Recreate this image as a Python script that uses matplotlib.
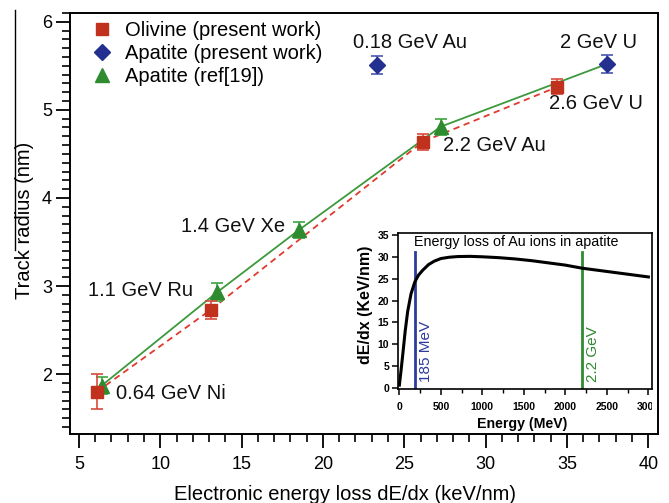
import matplotlib
matplotlib.use("Agg")
import matplotlib.pyplot as plt
from matplotlib.ticker import MultipleLocator
from matplotlib.lines import Line2D
from matplotlib.transforms import Bbox, TransformedBbox
import numpy as np

plt.rcParams['font.family'] = ['Liberation Sans', 'DejaVu Sans']

# ---- data ----
olivine_x = [6.1, 13.1, 26.15, 34.4]
olivine_y = [1.80, 2.73, 4.64, 5.26]
olivine_err = [0.20, 0.10, 0.09, 0.085]

apatite_x = [23.35, 37.45]
apatite_y = [5.51, 5.52]
apatite_err = [0.10, 0.10]

ref_x = [6.4, 13.5, 18.55, 27.25]
ref_y = [1.87, 2.93, 3.64, 4.81]
ref_err = [0.10, 0.10, 0.09, 0.09]

series_labels = ["Olivine (present work)", "Apatite (present work)", "Apatite (ref[19])"]

ion_labels = ["0.64 GeV Ni", "1.1 GeV Ru", "1.4 GeV Xe", "2.2 GeV Au",
              "2.6 GeV U", "0.18 GeV Au", "2 GeV U"]
ion_label_x = [7.3, 12.0, 17.7, 27.4, 33.9, 21.85, 34.55]
ion_label_y = [1.78, 2.95, 3.68, 4.59, 5.07, 5.77, 5.77]
ion_label_ha = ["left", "right", "right", "left", "left", "left", "left"]

energy_mev = [0, 20, 40, 70, 100, 140, 185, 230, 280, 350, 420, 500, 600,
              700, 850, 1000, 1200, 1400, 1600, 1800, 2000, 2200, 2400,
              2600, 2800, 3000]
dedx_inset = [0.7, 4.0, 7.5, 13.0, 17.5, 21.5, 24.2, 25.8, 26.9, 28.2, 29.0,
              29.6, 29.9, 30.05, 30.1, 30.0, 29.8, 29.5, 29.1, 28.6, 28.1,
              27.4, 26.9, 26.4, 25.9, 25.4]
marker_energies = [185, 2200]
marker_labels = ["185 MeV", "2.2 GeV"]

red = "#c0321e"
red_line = "#e03a2e"
blue = "#23308f"
green = "#2e8b30"
green_line = "#3c9a3c"

FS = 14.5

fig = plt.figure(figsize=(6.69, 5.03), dpi=100)
ax = fig.add_axes([70/669, 1-434/503, 588/669, 421/503])

# fit lines
ax.plot(olivine_x, olivine_y, color=red_line, lw=1.3, ls=(0, (3.5, 2.5)), zorder=2)
green_fit_x = list(ref_x) + [apatite_x[1]]
green_fit_y = list(ref_y) + [apatite_y[1]]
ax.plot(green_fit_x, green_fit_y, color=green_line, lw=1.3, zorder=2)

ax.errorbar(olivine_x, olivine_y, yerr=olivine_err, fmt='s', color=red,
            ecolor="#d84a3c", ms=9, capsize=4, elinewidth=1.2, capthick=1.2,
            zorder=4)
ax.errorbar(apatite_x, apatite_y, yerr=apatite_err, fmt='D', color=blue,
            ecolor="#4a55b0", ms=8.5, capsize=4, elinewidth=1.2, capthick=1.2,
            zorder=4)
ax.errorbar(ref_x, ref_y, yerr=ref_err, fmt='^', color=green,
            ecolor="#3fa33f", ms=10, capsize=4, elinewidth=1.2, capthick=1.2,
            zorder=3)

for t, x, y, ha in zip(ion_labels, ion_label_x, ion_label_y, ion_label_ha):
    ax.text(x, y, t, ha=ha, va='center', fontsize=FS, color='#111111')

ax.set_xlim(4.45, 40.6)
ax.set_ylim(1.32, 6.1)
ax.xaxis.set_major_locator(MultipleLocator(5))
ax.xaxis.set_minor_locator(MultipleLocator(1))
ax.yaxis.set_major_locator(MultipleLocator(1))
ax.yaxis.set_minor_locator(MultipleLocator(0.1))
ax.tick_params(which='major', direction='out', length=10, width=1.3, labelsize=13)
ax.tick_params(which='minor', direction='out', length=5.5, width=1.2)
ax.tick_params(axis='x', which='major', pad=6)
ax.tick_params(axis='y', which='major', pad=3)
for s in ax.spines.values():
    s.set_linewidth(1.4)

ax.set_xlabel("Electronic energy loss dE/dx (keV/nm)", fontsize=FS)
ax.xaxis.set_label_coords(0.4685, -0.121)
ax.xaxis.label.set_va('top')
ax.set_ylabel("Track radius (nm)", fontsize=FS)
ax.yaxis.set_label_coords(-0.061, 0.508)

handles = [
    Line2D([], [], ls='none', marker='s', ms=9, color=red),
    Line2D([], [], ls='none', marker='D', ms=8.5, color=blue),
    Line2D([], [], ls='none', marker='^', ms=10, color=green),
]
leg = ax.legend(handles, series_labels, loc='upper left',
                bbox_to_anchor=(0.037, (434-21)/421), frameon=False,
                fontsize=FS, handlelength=1.0, handletextpad=0.65,
                labelspacing=0.21, borderaxespad=0.0, borderpad=0.0)

# ---- inset ----
ins = fig.add_axes([397.7/669, 1-389.3/503, 254/669, 156.6/503])
ins.plot(energy_mev, dedx_inset, color='black', lw=2.2, zorder=3)
ins.plot([marker_energies[0]] * 2, [0, 31.2], color="#2b3c9c", lw=2)
ins.plot([marker_energies[1]] * 2, [0, 31.2], color="#2e8b30", lw=2)
ins.text(326, 8.4, marker_labels[0], rotation=90, ha='center', va='center',
         fontsize=11, color="#2b3c9c")
ins.text(2335, 7.8, marker_labels[1], rotation=90, ha='center', va='center',
         fontsize=11, color="#2e8b30")
ins.text(180, 33.4, "Energy loss of Au ions in apatite", ha='left', va='center',
         fontsize=10.3)
ins.set_xlim(-20, 3040)
ins.set_ylim(-0.25, 35.5)
ins.xaxis.set_major_locator(MultipleLocator(500))
ins.xaxis.set_minor_locator(MultipleLocator(250))
ins.yaxis.set_major_locator(MultipleLocator(5))
ins.tick_params(which='major', direction='out', length=4, width=1.1, labelsize=7.5)
ins.tick_params(which='minor', direction='out', length=3, width=1.0)
ins.tick_params(axis='x', pad=5)
ins.tick_params(axis='y', pad=2)
clip = TransformedBbox(Bbox.from_extents(0, 0, 651.7/669, 1), fig.transFigure)
for lbl in ins.get_xticklabels() + ins.get_yticklabels():
    lbl.set_fontweight('bold')
for lbl in ins.get_xticklabels():
    lbl.set_clip_on(True)
    lbl.set_clip_box(clip)
for s in ins.spines.values():
    s.set_linewidth(1.2)
ins.set_xlabel("Energy (MeV)", fontsize=10.2, fontweight='bold')
ins.xaxis.set_label_coords(0.489, -0.175)
ins.xaxis.label.set_va('top')
ins.set_ylabel("dE/dx (KeV/nm)", fontsize=11.5, fontweight='bold')
ins.yaxis.set_label_coords(-0.097, 0.538)

# thin border line at left edge of the reference image
fig.add_artist(Line2D([15/669, 15/669], [1-10/503, 1-250/503], color='black', lw=1))

fig.savefig("out.png", dpi=100)
